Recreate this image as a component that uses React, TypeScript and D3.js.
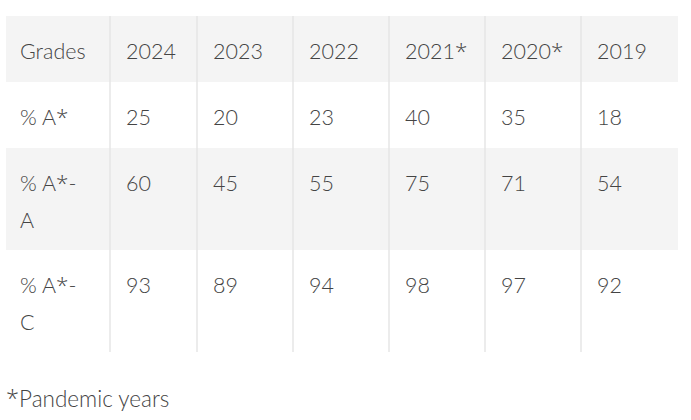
import React from "react";
import * as d3 from "d3";

const headers = ["Grades", "2024", "2023", "2022", "2021*", "2020*", "2019"];
const rowLabels = [["% A*"], ["% A*-", "A"], ["% A*-", "C"]];
const valuesAStar = [25, 20, 23, 40, 35, 18];
const valuesAStarA = [60, 45, 55, 75, 71, 54];
const valuesAStarC = [93, 89, 94, 98, 97, 92];
const footnote = "*Pandemic years";

const W = 691;
const H = 420;
const colEdges = [6, 110, 197, 293, 389, 485, 581, 678];
const rowEdges = [16, 82, 148, 250, 352];
const rowFills = ["#f4f4f4", "#ffffff", "#f4f4f4", "#ffffff"];
const font = "Lato, 'Open Sans', sans-serif";
const textColor = "#444";

function Txt({ s }: { s: string }) {
  const parts = s.split(/(\*)/).filter((p) => p.length);
  return (
    <>
      {parts.map((p, i) =>
        p === "*" ? (
          <tspan key={i} fontFamily="'Open Sans', sans-serif" fontWeight={300} fontSize="1.05em">*</tspan>
        ) : (
          <tspan key={i}>{p}</tspan>
        )
      )}
    </>
  );
}

export default function App() {
  const rows = [valuesAStar, valuesAStarA, valuesAStarC];
  const y = d3.scaleOrdinal<number, number>().domain([0, 1, 2, 3]).range(rowEdges.slice(0, 4));
  const x = d3.scaleOrdinal<number, number>().domain(d3.range(7)).range(colEdges.slice(0, 7));
  const fs = 21.5;
  const lh = 37;
  const pad = (i: number) => (i === 0 ? 14 : 16);
  const base = 43;
  return (
    <svg width={W} height={H} style={{ position: "absolute", left: 0, top: 0, background: "#fff" }}>
      {rowFills.map((f, i) => (
        <rect key={i} x={colEdges[0]} y={rowEdges[i]} width={colEdges[7] - colEdges[0]} height={rowEdges[i + 1] - rowEdges[i]} fill={f} />
      ))}
      {colEdges.slice(1, 7).map((cx, i) => (
        <line key={i} x1={cx} x2={cx} y1={rowEdges[0]} y2={rowEdges[4]} stroke="#e6e6e6" strokeWidth={1.5} />
      ))}
      <g fontFamily={font} fontWeight={300} fontSize={fs} fill={textColor}>
        {headers.map((h, i) => (
          <text key={h} x={x(i) + pad(i)} y={y(0) + base}><Txt s={h} /></text>
        ))}
        {rows.map((vals, r) => (
          <g key={r}>
            {rowLabels[r].map((t, k) => (
              <text key={k} x={x(0) + pad(0)} y={y(r + 1) + base + k * lh}><Txt s={t} /></text>
            ))}
            {vals.map((v, c) => (
              <text key={c} x={x(c + 1) + pad(c + 1)} y={y(r + 1) + base}>{v}</text>
            ))}
          </g>
        ))}
        <text x={6} y={407} fontSize={22.5}><Txt s={footnote} /></text>
      </g>
    </svg>
  );
}
